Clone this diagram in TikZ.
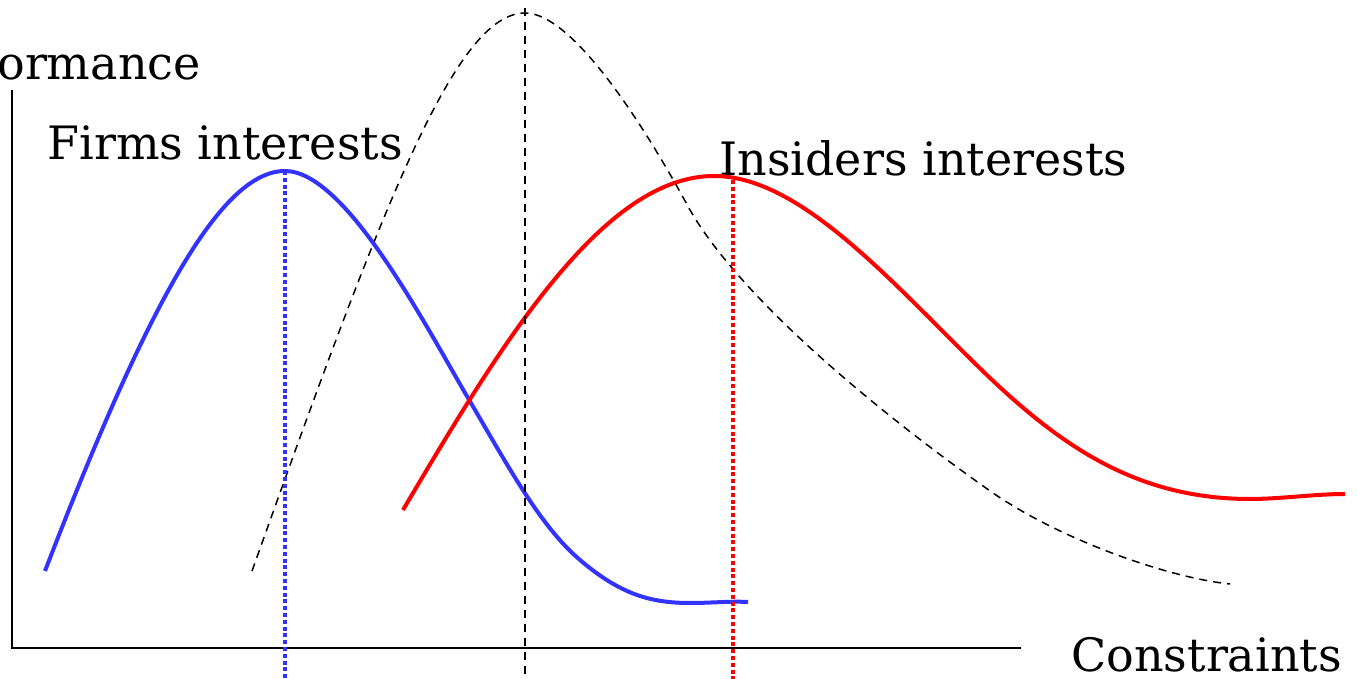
\documentclass[tikz,border=0pt]{standalone}
\usepackage{fontspec}
\setmainfont{DejaVu Serif}
\definecolor{cblue}{RGB}{51,51,255}
\definecolor{cred}{RGB}{255,0,0}
\tikzset{
  lbl/.style={inner sep=0pt, font=\fontsize{23}{27}\selectfont},
  axisline/.style={line width=1pt, black},
  firmcurve/.style={line width=2pt, cblue, line cap=butt},
  inscurve/.style={line width=2pt, cred, line cap=butt},
  optcurve/.style={line width=0.75pt, black, dash pattern=on 4pt off 3pt},
  firmmark/.style={line width=1.6pt, cblue, dash pattern=on 2pt off 1.4pt},
  insmark/.style={line width=1.6pt, cred, dash pattern=on 2pt off 1.4pt},
  optmark/.style={line width=0.75pt, black, dash pattern=on 4pt off 3pt}
}
\begin{document}
\begin{tikzpicture}[x=0.5pt,y=-0.5pt]
\useasboundingbox (0,0) rectangle (1357,679);
\clip (0,0) rectangle (1357,679);
% axes
\coordinate (ytop) at (12,90);
\coordinate (O) at (12,648);
\coordinate (xend) at (1021,648);
\draw[axisline] (ytop) -- (O) -- (xend);
% labels
\node[lbl, anchor=base east] (perf) at (201,80) {Performance};
\node[lbl, anchor=base west] (constr) at (1071,672) {Constraints};
\node[lbl, anchor=base west] (firms) at (47,160) {Firms interests};
\node[lbl, anchor=base west] (insid) at (719,176) {Insiders interests};
% optimum (black dashed) curve
\draw[optcurve] (252,571) .. controls (382,207) and (455,13) .. (525,13)
  .. controls (575,13) and (650,136) .. (690,210)
  .. controls (745,305) and (893,423) .. (993,493)
  .. controls (1063,541) and (1170,578) .. (1230,584);
% firms (blue) curve
\draw[firmcurve] (45,571) .. controls (150,298) and (222,171) .. (285,171)
  .. controls (345,171) and (423,321) .. (468,398)
  .. controls (508,466) and (540,526) .. (580,560)
  .. controls (620,594) and (650,603) .. (690,603)
  .. controls (712,603) and (730,601) .. (748,602);
% insiders (red) curve
\draw[inscurve] (403,510) .. controls (503,340) and (604,176) .. (714,176)
  .. controls (804,176) and (900,292) .. (990,378)
  .. controls (1065,449) and (1140,499) .. (1250,499)
  .. controls (1280,499) and (1315,494) .. (1345,494);
% vertical markers
\coordinate (bpk) at (285,171);
\coordinate (bbot) at (285,679);
\coordinate (kpk) at (525,8);
\coordinate (kbot) at (525,679);
\coordinate (rpk) at (733,180);
\coordinate (rbot) at (733,679);
\draw[firmmark] (bpk) -- (bbot);
\draw[optmark] (kpk) -- (kbot);
\draw[insmark] (rpk) -- (rbot);
\end{tikzpicture}
\end{document}
